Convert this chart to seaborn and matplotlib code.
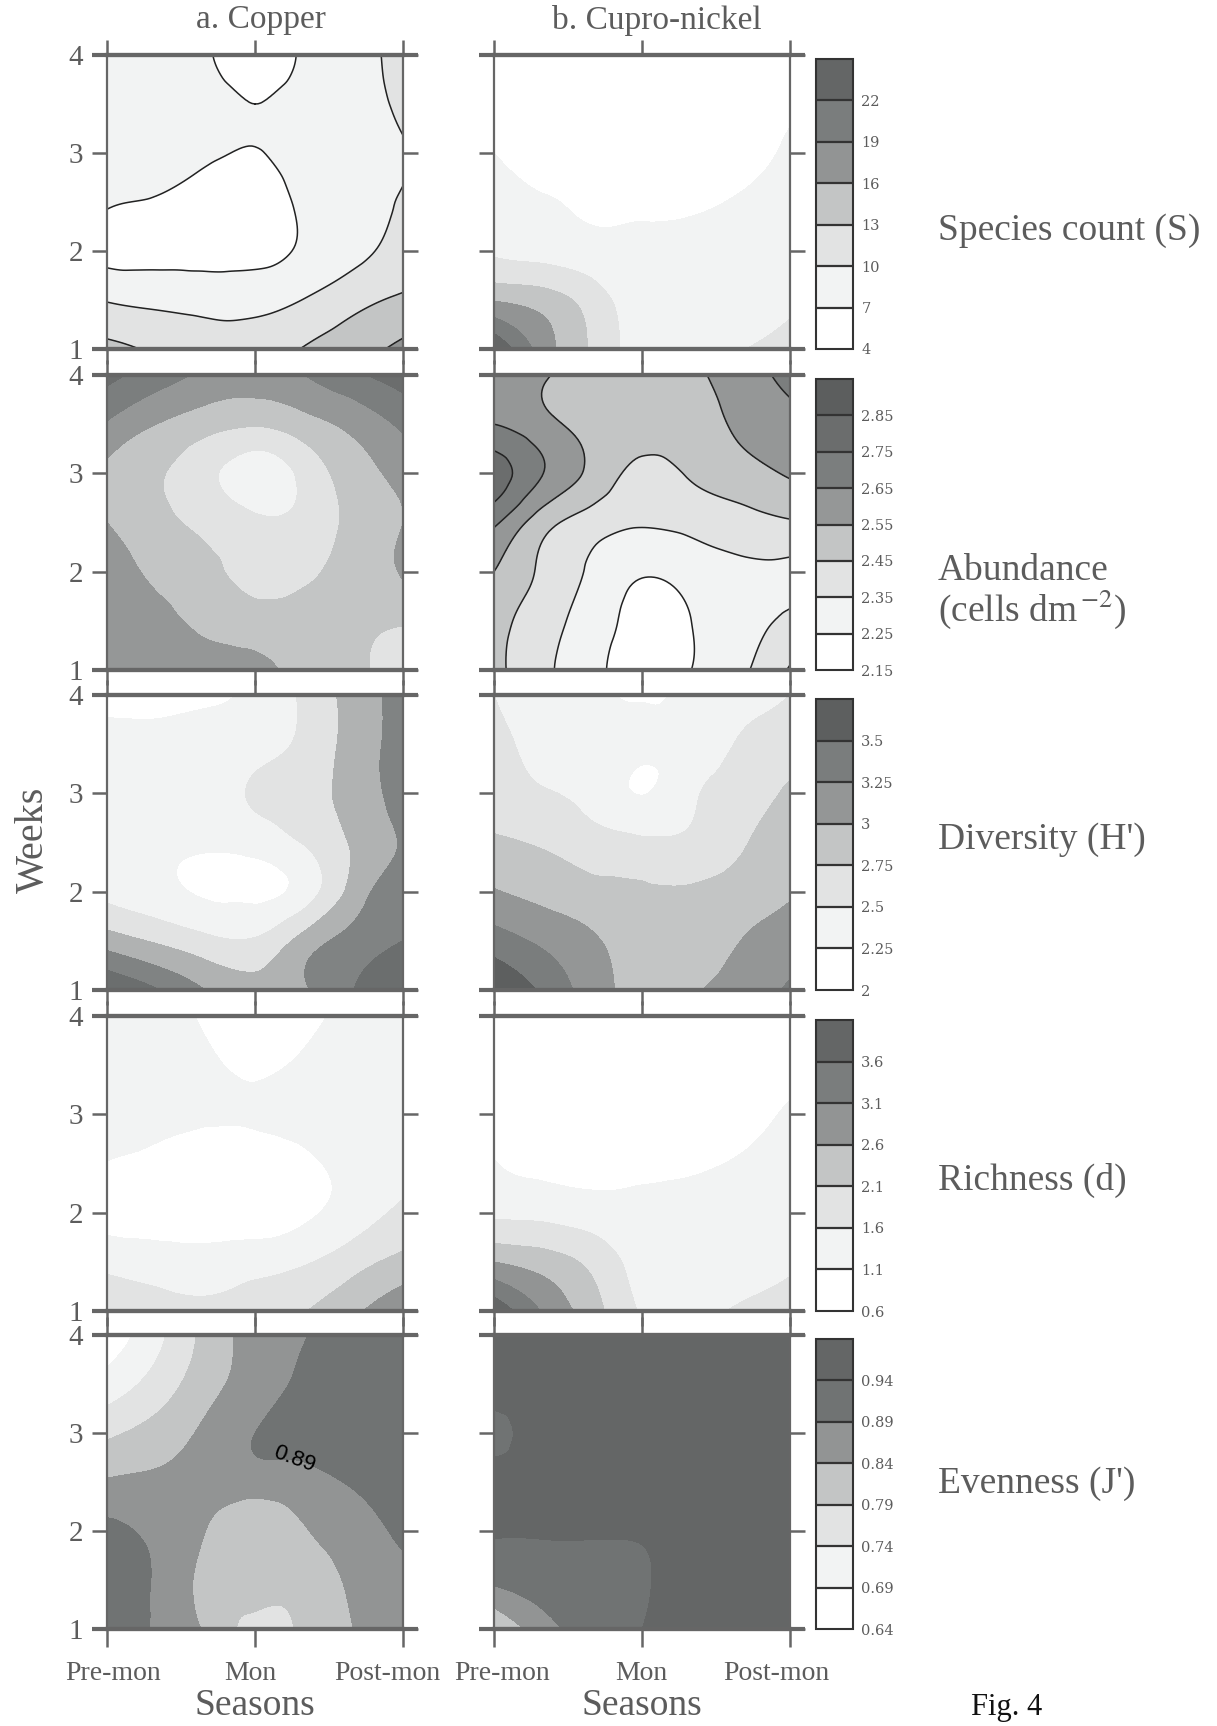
import numpy as np
import matplotlib
matplotlib.use('Agg')
import matplotlib.pyplot as plt
import matplotlib.tri as mtri
from matplotlib.colors import ListedColormap, BoundaryNorm
from matplotlib.transforms import ScaledTranslation
import seaborn as sns

# grid the values were read on: 7 columns over the seasons, 7 rows over the weeks
seasons = [0, 1/3, 2/3, 1, 4/3, 5/3, 2]
weeks = [4, 3.5, 3, 2.5, 2, 1.5, 1]
season_labels = ['Pre-mon', 'Mon', 'Post-mon']
week_ticks = [1, 2, 3, 4]

species_copper = [[8, 8, 7.4, 5.2, 7.5, 9, 11],
                  [8, 8, 8, 7, 8, 8.8, 10.7],
                  [7.9, 7.8, 7.4, 6.9, 8, 9, 9.8],
                  [7.3, 6.8, 5.9, 5.6, 7.6, 9, 10.2],
                  [6.2, 6.2, 6, 6, 7.5, 9.2, 11],
                  [9.8, 9.2, 8.9, 9, 10.1, 12, 13.5],
                  [13.7, 12.6, 11.5, 11.2, 13.2, 14.8, 16.7]]
species_cupro = [[5, 5, 5, 5, 5, 5, 5],
                 [5, 5, 5, 5, 5, 5.5, 6.5],
                 [7, 5.5, 5, 5, 5, 6, 7.4],
                 [7.8, 7.2, 6.5, 6.3, 6.4, 7.3, 8],
                 [9.5, 8.8, 8, 7.8, 8, 8, 8.2],
                 [15.8, 14.5, 11.5, 8.3, 8, 8, 9.3],
                 [25, 17.5, 12.5, 8.5, 8, 9.8, 11.5]]
abundance_copper = [[2.78, 2.70, 2.63, 2.60, 2.65, 2.73, 2.80],
                    [2.64, 2.55, 2.49, 2.46, 2.51, 2.58, 2.67],
                    [2.53, 2.46, 2.38, 2.30, 2.38, 2.50, 2.58],
                    [2.55, 2.48, 2.42, 2.37, 2.38, 2.48, 2.55],
                    [2.62, 2.53, 2.48, 2.41, 2.43, 2.49, 2.56],
                    [2.65, 2.58, 2.53, 2.50, 2.49, 2.47, 2.46],
                    [2.62, 2.60, 2.58, 2.57, 2.52, 2.47, 2.40]]
abundance_cupro = [[2.60, 2.56, 2.50, 2.49, 2.53, 2.60, 2.68],
                   [2.65, 2.58, 2.51, 2.48, 2.50, 2.57, 2.62],
                   [2.80, 2.65, 2.52, 2.43, 2.46, 2.51, 2.56],
                   [2.67, 2.49, 2.40, 2.36, 2.38, 2.41, 2.44],
                   [2.55, 2.43, 2.33, 2.26, 2.29, 2.33, 2.33],
                   [2.49, 2.39, 2.30, 2.22, 2.25, 2.31, 2.37],
                   [2.48, 2.37, 2.28, 2.20, 2.25, 2.33, 2.46]]
diversity_copper = [[2.2, 2.2, 2.22, 2.3, 2.55, 2.85, 3.1],
                    [2.3, 2.3, 2.33, 2.4, 2.56, 2.85, 3.1],
                    [2.35, 2.35, 2.38, 2.53, 2.65, 2.85, 3.1],
                    [2.35, 2.32, 2.29, 2.34, 2.52, 2.78, 3.02],
                    [2.43, 2.33, 2.22, 2.2, 2.37, 2.85, 3.15],
                    [2.88, 2.72, 2.57, 2.53, 2.85, 3.1, 3.25],
                    [3.5, 3.27, 3.0, 2.85, 2.97, 3.25, 3.42]]
diversity_cupro = [[2.5, 2.35, 2.29, 2.22, 2.3, 2.38, 2.5],
                   [2.57, 2.42, 2.33, 2.3, 2.33, 2.53, 2.65],
                   [2.65, 2.52, 2.4, 2.245, 2.45, 2.64, 2.78],
                   [2.78, 2.72, 2.6, 2.55, 2.55, 2.72, 2.87],
                   [3.02, 2.92, 2.83, 2.78, 2.78, 2.86, 2.97],
                   [3.37, 3.2, 3.03, 2.88, 2.85, 3.0, 3.13],
                   [3.75, 3.45, 3.12, 2.92, 2.97, 3.12, 3.28]]
richness_copper = [[1.25, 1.22, 1.05, 0.9, 1.0, 1.2, 1.3],
                   [1.35, 1.3, 1.18, 1.03, 1.17, 1.3, 1.35],
                   [1.3, 1.25, 1.18, 1.15, 1.25, 1.35, 1.4],
                   [1.08, 0.95, 0.8, 0.85, 1.0, 1.3, 1.45],
                   [0.9, 0.85, 0.8, 0.8, 1.0, 1.35, 1.7],
                   [1.45, 1.35, 1.3, 1.4, 1.55, 1.9, 2.25],
                   [1.9, 1.75, 1.7, 1.8, 2.08, 2.5, 3.0]]
richness_cupro = [[0.7, 0.7, 0.7, 0.7, 0.7, 0.7, 0.7],
                  [0.7, 0.7, 0.7, 0.7, 0.75, 0.85, 0.95],
                  [0.8, 0.75, 0.72, 0.72, 0.78, 0.95, 1.15],
                  [1.12, 0.98, 0.92, 0.92, 1.0, 1.15, 1.3],
                  [1.5, 1.45, 1.33, 1.3, 1.3, 1.3, 1.35],
                  [2.6, 2.35, 1.95, 1.4, 1.25, 1.3, 1.5],
                  [4.0, 3.05, 2.3, 1.55, 1.35, 1.7, 1.95]]
evenness_copper = [[0.66, 0.725, 0.805, 0.86, 0.888, 0.91, 0.92],
                   [0.71, 0.76, 0.82, 0.865, 0.90, 0.92, 0.92],
                   [0.78, 0.81, 0.85, 0.89, 0.905, 0.92, 0.92],
                   [0.845, 0.85, 0.855, 0.865, 0.875, 0.895, 0.91],
                   [0.90, 0.88, 0.84, 0.80, 0.835, 0.87, 0.90],
                   [0.905, 0.885, 0.825, 0.80, 0.81, 0.85, 0.875],
                   [0.91, 0.885, 0.833, 0.775, 0.80, 0.84, 0.87]]
evenness_cupro = [[0.97, 0.97, 0.97, 0.97, 0.97, 0.97, 0.97],
                  [0.97, 0.97, 0.97, 0.97, 0.97, 0.97, 0.97],
                  [0.925, 0.96, 0.97, 0.97, 0.97, 0.97, 0.97],
                  [0.965, 0.965, 0.965, 0.965, 0.97, 0.97, 0.97],
                  [0.945, 0.945, 0.945, 0.945, 0.96, 0.97, 0.97],
                  [0.90, 0.915, 0.92, 0.935, 0.96, 0.97, 0.97],
                  [0.78, 0.87, 0.91, 0.94, 0.96, 0.97, 0.97]]

species_levels = [4, 7, 10, 13, 16, 19, 22, 25]
abundance_levels = [2.15, 2.25, 2.35, 2.45, 2.55, 2.65, 2.75, 2.85, 2.95]
diversity_levels = [2, 2.25, 2.5, 2.75, 3, 3.25, 3.5, 3.75]
richness_levels = [0.6, 1.1, 1.6, 2.1, 2.6, 3.1, 3.6, 4.1]
evenness_levels = [0.64, 0.69, 0.74, 0.79, 0.84, 0.89, 0.94, 0.99]

species_labels = ['4', '7', '10', '13', '16', '19', '22']
abundance_labels = ['2.15', '2.25', '2.35', '2.45', '2.55', '2.65', '2.75', '2.85']
diversity_labels = ['2', '2.25', '2.5', '2.75', '3', '3.25', '3.5']
richness_labels = ['0.6', '1.1', '1.6', '2.1', '2.6', '3.1', '3.6']
evenness_labels = ['0.64', '0.69', '0.74', '0.79', '0.84', '0.89', '0.94']

grays7 = ['#ffffff', '#f2f3f3', '#e2e3e3', '#c3c5c5', '#929494', '#7a7d7d', '#646666']
grays8 = ['#ffffff', '#f2f3f3', '#e2e3e3', '#c3c5c5', '#959797', '#7b7e7e', '#6b6d6d', '#5c5e5e']
grays_div = ['#ffffff', '#f2f3f3', '#e2e3e3', '#b0b2b2', '#808383', '#6b6e6e', '#5d5f5f']
grays_div_b = ['#ffffff', '#f2f3f3', '#e2e3e3', '#c3c5c5', '#949696', '#7a7d7d', '#5d5f5f']
grays_even = ['#ffffff', '#f2f3f3', '#e2e3e3', '#c3c5c5', '#929494', '#707373', '#646666']

W, H = 1217, 1726
AXC = '#666666'
TXT = '#5c5c5c'

# each row: copper, cupro, levels, bar labels, colours a, colours b, top y, bottom y (px), lines on a, lines on b
rows = [
    (species_copper, species_cupro, species_levels, species_labels, grays7, grays7, 55, 349, True, False),
    (abundance_copper, abundance_cupro, abundance_levels, abundance_labels, grays8, grays8, 375, 670, False, True),
    (diversity_copper, diversity_cupro, diversity_levels, diversity_labels, grays_div, grays_div_b, 695, 990, False, False),
    (richness_copper, richness_cupro, richness_levels, richness_labels, grays7, grays7, 1016, 1311, False, False),
    (evenness_copper, evenness_cupro, evenness_levels, evenness_labels, grays_even, grays_even, 1335, 1629, False, False),
]
row_names = [('Species count (S)', 231), ('Abundance', 571), (r'(cells dm$^{\,\mathrm{-2}}$)', 609),
             ("Diversity (H')", 840), ('Richness (d)', 1180), ("Evenness (J')", 1484)]

sns.set_theme(style='ticks')
plt.rcParams['font.family'] = ['Liberation Serif', 'DejaVu Serif']
plt.rcParams['mathtext.fontset'] = 'stix'

fig = plt.figure(figsize=(W / 100, H / 100), dpi=100, facecolor='white')


def add_px_axes(x0, y0, x1, y1):
    return fig.add_axes([x0 / W, 1 - y1 / H, (x1 - x0) / W, (y1 - y0) / H])


def draw_panel(ax, values, levels, colors, lines):
    cmap = ListedColormap(sns.color_palette(colors))
    norm = BoundaryNorm(levels, cmap.N)
    xx, yy = np.meshgrid(seasons, weeks)
    tri = mtri.Triangulation(xx.ravel(), yy.ravel())
    z = np.array(values, dtype=float).ravel()
    # smooth contours, the original is a kriged surface
    refiner = mtri.UniformTriRefiner(tri)
    interp = mtri.CubicTriInterpolator(tri, z, kind='min_E')
    tri2, z2 = refiner.refine_field(z, interp, subdiv=4)
    eps = (levels[1] - levels[0]) * 0.001
    z2 = np.clip(z2, levels[0] + eps, levels[-1] - eps)
    cs = ax.tricontourf(tri2, z2, levels=levels, cmap=cmap, norm=norm)
    if lines:
        ax.tricontour(tri2, z2, levels=levels[1:-1], colors='#222222', linewidths=1.1)
    ax.set_xlim(0, 2)
    ax.set_ylim(1, 4)
    return cs


for r, (cu, cn, levels, bar_labels, colors_a, colors_b, top, bottom, line_a, line_b) in enumerate(rows):
    last = r == len(rows) - 1
    panels = [(107, 403, cu, colors_a, line_a), (494, 790, cn, colors_b, line_b)]
    for c, (left, right, vals, colors, lines) in enumerate(panels):
        ax = add_px_axes(left, top, right, bottom)
        cs = draw_panel(ax, vals, levels, colors, lines)
        ax.set_xticks([0, 1, 2])
        ax.set_yticks(week_ticks)
        ax.tick_params(axis='both', which='both', top=True, bottom=True, left=True, right=True,
                       length=11, width=1.8, color=AXC, labelcolor=TXT)
        ax.set_xticklabels([])
        if last:
            ax.tick_params(axis='x', which='both', bottom=True, length=13, pad=10)
            ax.set_xticklabels(season_labels, fontsize=20, color=TXT)
            ax.set_xlabel('Seasons', fontsize=27, color=TXT, labelpad=2)
        if c == 0:
            ax.set_yticklabels([str(t) for t in week_ticks], fontsize=21, color=TXT)
            ax.tick_params(axis='y', pad=6)
        else:
            ax.set_yticklabels([])
        if last:
            # labels sit off their ticks in the original
            shift = [6, -5, -16] if c == 0 else [8, -1, -14]
            for lab, dx in zip(ax.get_xticklabels(), shift):
                lab.set_transform(lab.get_transform() + ScaledTranslation(dx / 100, 0, fig.dpi_scale_trans))
        for side in ['left', 'right']:
            ax.spines[side].set_linewidth(1.6)
            ax.spines[side].set_color(AXC)
        for side, yy in [('top', 1), ('bottom', 0)]:
            ax.spines[side].set_linewidth(3)
            ax.spines[side].set_color(AXC)
            ax.plot([-0.05, 1.05], [yy, yy], transform=ax.transAxes, clip_on=False,
                    color=AXC, lw=3, solid_capstyle='butt', zorder=5)
        if r == 4 and c == 0:
            ax.text(1.264, 2.735, '0.89', family='Liberation Sans', fontsize=16, color='black',
                    rotation=-20, ha='center', va='center')

    # legend bar beside the cupro-nickel panel
    cax = add_px_axes(816, top + 4, 853, bottom)
    cb = fig.colorbar(cs, cax=cax, drawedges=True, ticks=levels[:-1])
    cb.ax.set_yticklabels(bar_labels, fontsize=10.5, color=TXT, family='DejaVu Serif')
    cb.ax.tick_params(which='both', length=0, pad=6)
    cb.ax.minorticks_off()
    cb.outline.set_edgecolor('#333333')
    cb.outline.set_linewidth(1.5)
    cb.dividers.set_color('#333333')
    cb.dividers.set_linewidth(1.6)

fig.text(261 / W, 1 - 20 / H, 'a. Copper', fontsize=24, color=TXT, va='center', ha='center')
fig.text(657 / W, 1 - 20 / H, 'b. Cupro-nickel', fontsize=24, color=TXT, va='center', ha='center')

for name, y in row_names:
    fig.text(938 / W, 1 - y / H, name, fontsize=27, color=TXT, va='center', ha='left')

fig.text(33 / W, 1 - 840 / H, 'Weeks', fontsize=29, color=TXT, rotation=90, va='center', ha='center')
fig.text(1007 / W, 1 - 1707 / H, 'Fig. 4', fontsize=22, color='#111111', va='center', ha='center')

fig.savefig('out.png', dpi=100, facecolor='white')
